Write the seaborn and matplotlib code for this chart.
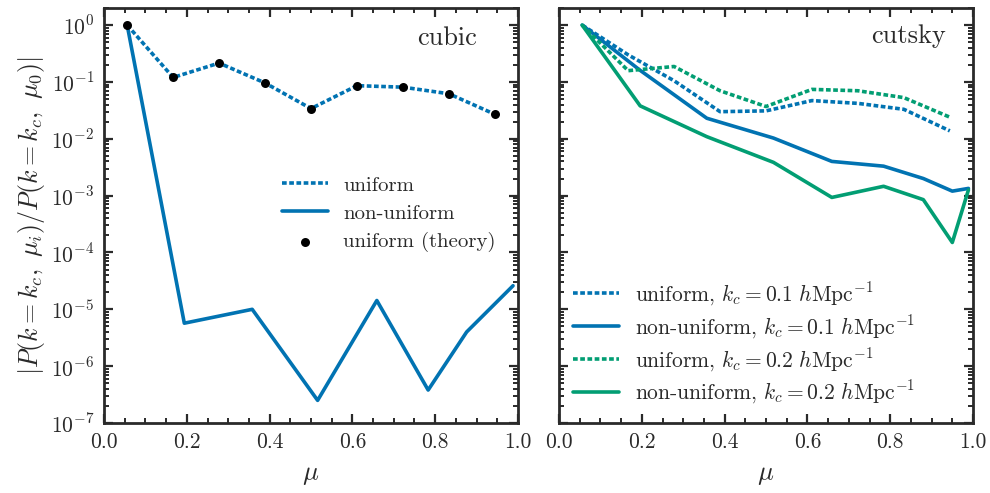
import matplotlib
matplotlib.use("Agg")
import matplotlib.pyplot as plt
import matplotlib.ticker as mticker
import seaborn as sns
import numpy as np

# ---------------- data ----------------
mu_uniform = [0.056, 0.167, 0.278, 0.389, 0.500, 0.611, 0.722, 0.833, 0.944]
cubic_uniform = [1.0, 0.12, 0.215, 0.096, 0.034, 0.086, 0.081, 0.062, 0.027]
cubic_theory = [1.0, 0.12, 0.215, 0.096, 0.034, 0.086, 0.081, 0.062, 0.027]

mu_nonuniform_cubic = [0.056, 0.194, 0.358, 0.516, 0.659, 0.783, 0.876, 0.988]
cubic_nonuniform = [1.0, 5.7e-6, 1.0e-5, 2.5e-7, 1.43e-5, 3.8e-7, 4.0e-6, 2.6e-5]

mu_nonuniform = [0.056, 0.196, 0.357, 0.518, 0.659, 0.784, 0.880, 0.950, 0.989]
cutsky_uniform_k01 = [1.0, 0.30, 0.105, 0.030, 0.031, 0.047, 0.042, 0.033, 0.0138]
cutsky_uniform_k02 = [1.0, 0.158, 0.187, 0.070, 0.037, 0.074, 0.070, 0.053, 0.024]
cutsky_nonuniform_k01 = [1.0, 0.16, 0.023, 0.0103, 0.0040, 0.0033, 0.0020, 0.0012, 0.00134]
cutsky_nonuniform_k02 = [1.0, 0.038, 0.0109, 0.00385, 0.00093, 0.00146, 0.00085, 0.00015, 0.00126]

xticks = [0.0, 0.2, 0.4, 0.6, 0.8, 1.0]

# ---------------- style ----------------
sns.set_theme(style="ticks", palette="colorblind")
plt.rcParams.update({
    "font.family": "serif",
    "font.serif": ["cmr10", "DejaVu Serif"],
    "mathtext.fontset": "cm",
    "axes.formatter.use_mathtext": True,
    "axes.unicode_minus": False,
    "axes.edgecolor": "#2a2a2a",
    "axes.linewidth": 2.0,
    "xtick.color": "#2a2a2a",
    "ytick.color": "#2a2a2a",
    "text.color": "#2a2a2a",
    "axes.labelcolor": "#2a2a2a",
})

pal = sns.color_palette("colorblind")
blue, green = pal[0], pal[2]
dotted = (0, (1.3, 0.7))
lw = 2.6

fig = plt.figure(figsize=(9.9, 4.93), dpi=100)
ax1 = fig.add_axes([104 / 990, 70 / 493, 414 / 990, 415 / 493])
ax2 = fig.add_axes([559 / 990, 70 / 493, 414 / 990, 415 / 493], sharey=ax1)

for ax in (ax1, ax2):
    ax.set_yscale("log")

# left panel
sns.lineplot(x=mu_uniform, y=cubic_uniform, ax=ax1, color=blue, lw=lw,
             linestyle=dotted, label="uniform")
sns.lineplot(x=mu_nonuniform_cubic, y=cubic_nonuniform, ax=ax1, color=blue,
             lw=lw, label="non-uniform")
sns.scatterplot(x=mu_uniform, y=cubic_theory, ax=ax1, color="black", s=42,
                edgecolor="black", linewidth=0, zorder=5, label="uniform (theory)")

# right panel
sns.lineplot(x=mu_uniform, y=cutsky_uniform_k01, ax=ax2, color=blue, lw=lw,
             linestyle=dotted, label=r"uniform, $k_c = 0.1\ h\mathrm{Mpc}^{-1}$")
sns.lineplot(x=mu_nonuniform, y=cutsky_nonuniform_k01, ax=ax2, color=blue, lw=lw,
             label=r"non-uniform, $k_c = 0.1\ h\mathrm{Mpc}^{-1}$")
sns.lineplot(x=mu_uniform, y=cutsky_uniform_k02, ax=ax2, color=green, lw=lw,
             linestyle=dotted, label=r"uniform, $k_c = 0.2\ h\mathrm{Mpc}^{-1}$")
sns.lineplot(x=mu_nonuniform, y=cutsky_nonuniform_k02, ax=ax2, color=green, lw=lw,
             label=r"non-uniform, $k_c = 0.2\ h\mathrm{Mpc}^{-1}$")

def logfmt(v, pos):
    if v <= 0:
        return ""
    e = int(np.round(np.log10(v)))
    return r"$10^{%d}$" % e

for ax in (ax1, ax2):
    ax.set_xlim(0, 1)
    ax.set_ylim(1e-7, 2)
    ax.set_xticks(xticks)
    ax.xaxis.set_major_formatter(mticker.FormatStrFormatter("%.1f"))
    ax.xaxis.set_minor_locator(mticker.MultipleLocator(0.05))
    ax.yaxis.set_major_locator(mticker.LogLocator(base=10, numticks=20))
    ax.yaxis.set_minor_locator(mticker.LogLocator(base=10, subs=np.arange(2, 10), numticks=20))
    ax.yaxis.set_major_formatter(mticker.FuncFormatter(logfmt))
    ax.yaxis.set_minor_formatter(mticker.NullFormatter())
    ax.tick_params(which="both", direction="in", top=True, right=True)
    ax.tick_params(which="major", length=6.5, width=1.6, labelsize=15.5, pad=7)
    ax.tick_params(which="minor", length=3.5, width=1.4)
    ax.set_xlabel(r"$\mu$", fontsize=19, labelpad=8)

ax2.tick_params(labelleft=False)
ax2.set_ylabel("")
ax1.set_ylabel(r"$|P(k = k_c,\ \mu_i)/P(k = k_c,\ \mu_0)|$", fontsize=18.6, labelpad=3)

ax1.text(0.90, 0.955, "cubic", transform=ax1.transAxes, ha="right", va="top", fontsize=19)
ax2.text(0.935, 0.96, "cutsky", transform=ax2.transAxes, ha="right", va="top", fontsize=19)

ax1.legend(loc="upper left", bbox_to_anchor=(0.43, 0.595), frameon=False, fontsize=15,
           handlelength=2.2, handletextpad=0.75, borderpad=0, borderaxespad=0,
           labelspacing=0.45)
ax2.legend(loc="lower left", bbox_to_anchor=(0.035, 0.04), frameon=False, fontsize=15.5,
           handlelength=2.1, handletextpad=0.75, borderpad=0, borderaxespad=0,
           labelspacing=0.25)

fig.savefig("out.png", dpi=100)
